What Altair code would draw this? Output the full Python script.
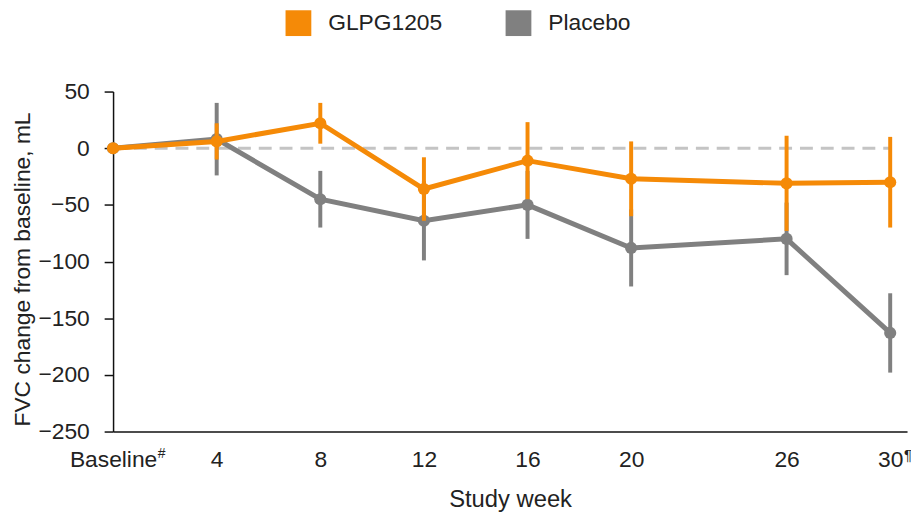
import altair as alt
import pandas as pd

weeks = [0, 4, 8, 12, 16, 20, 26, 30]
glpg_mean = [0, 6, 22, -36, -11, -27, -31, -30]
glpg_err = [0, 16, 18, 28, 34, 33, 42, 40]
placebo_mean = [0, 8, -45, -64, -50, -88, -80, -163]
placebo_err = [0, 32, 25, 35, 30, 34, 32, 35]
series_names = ["GLPG1205", "Placebo"]
series_colors = ["#F58A07", "#808080"]
y_ticks = [50, 0, -50, -100, -150, -200, -250]

rows = []
for name, means, errs in [("GLPG1205", glpg_mean, glpg_err), ("Placebo", placebo_mean, placebo_err)]:
    for w, m, e in zip(weeks, means, errs):
        rows.append({"week": w, "mean": m, "lo": m - e, "hi": m + e, "series": name})
df = pd.DataFrame(rows)

FONT = "Liberation Sans"
FS = 23

xscale = alt.Scale(domain=[0, 30.65], nice=False, zero=False)
yscale = alt.Scale(domain=[-250, 50], nice=False)

color_scale = alt.Scale(domain=series_names, range=series_colors)

def series_layers(name, col):
    base = alt.Chart(df).transform_filter(alt.datum.series == name)
    bars = base.mark_rule(strokeWidth=4, color=col).encode(
        x=alt.X("week:Q", scale=xscale),
        y=alt.Y("lo:Q", scale=yscale),
        y2="hi:Q",
    )
    line = base.mark_line(strokeWidth=5, color=col).encode(
        x=alt.X("week:Q", scale=xscale),
        y=alt.Y("mean:Q", scale=yscale),
    )
    pts = base.mark_circle(size=150, opacity=1).encode(
        x=alt.X("week:Q", scale=xscale),
        y=alt.Y("mean:Q", scale=yscale),
        color=alt.Color("series:N", scale=color_scale, title=None),
    )
    return [bars, line, pts]

zero_line = alt.Chart(pd.DataFrame({"v": [0]})).mark_rule(
    strokeDash=[13, 8], color="#C4C4C4", strokeWidth=3
).encode(
    x=alt.datum(0), x2=alt.datum(30), y=alt.Y("v:Q", scale=yscale)
)

axes = alt.Chart(df).mark_point(opacity=0).encode(
    x=alt.X("week:Q", scale=xscale,
            axis=alt.Axis(values=weeks, title="Study week",
                          labelExpr="datum.value == 0 ? 'Baseline' : datum.label",
                          labelFlush=False,
                          ticks=False, tickSize=0, labelPadding=17,
                          titlePadding=17, titleFontSize=24, grid=False)),
    y=alt.Y("mean:Q", scale=yscale,
            axis=alt.Axis(values=y_ticks, title="FVC change from baseline, mL",
                          tickSize=9, labelPadding=15, titlePadding=3,
                          titleY=179, grid=False)),
)

sup1 = alt.Chart(pd.DataFrame({"week": [0], "t": ["#"]})).mark_text(
    font=FONT, fontSize=14, align="left", baseline="top", dx=45, dy=16, color="#222"
).encode(x=alt.X("week:Q", scale=xscale), y=alt.datum(-250), text="t:N")
sup2 = alt.Chart(pd.DataFrame({"week": [30], "t": ["¶"]})).mark_text(
    font=FONT, fontSize=15, align="left", baseline="top", dx=14, dy=17, color="#222"
).encode(x=alt.X("week:Q", scale=xscale), y=alt.datum(-250), text="t:N")

layers = [axes, zero_line] + series_layers("Placebo", series_colors[1]) + series_layers("GLPG1205", series_colors[0]) + [sup1, sup2]

chart = alt.layer(*layers).properties(
    width=801, height=343,
    autosize=alt.AutoSizeParams(type="none"),
    padding={"left": 106, "top": 82, "right": 4, "bottom": 92},
).configure_view(stroke=None).configure_axis(
    labelFont=FONT, labelFontSize=FS, titleFont=FONT, titleFontSize=FS,
    titleFontWeight="normal", labelColor="#222", titleColor="#222",
    domainColor="#111", tickColor="#111", domainWidth=1.5, tickWidth=1.5,
).configure_legend(
    orient="none", legendX=174, legendY=-82, direction="horizontal",
    symbolType="square", symbolSize=676, symbolStrokeWidth=0, symbolOpacity=1,
    labelFont=FONT, labelFontSize=FS, labelColor="#222", labelOffset=17,
    columnPadding=63, padding=0,
)

chart.save("out.html", embed_options={"renderer": "svg", "actions": False})
